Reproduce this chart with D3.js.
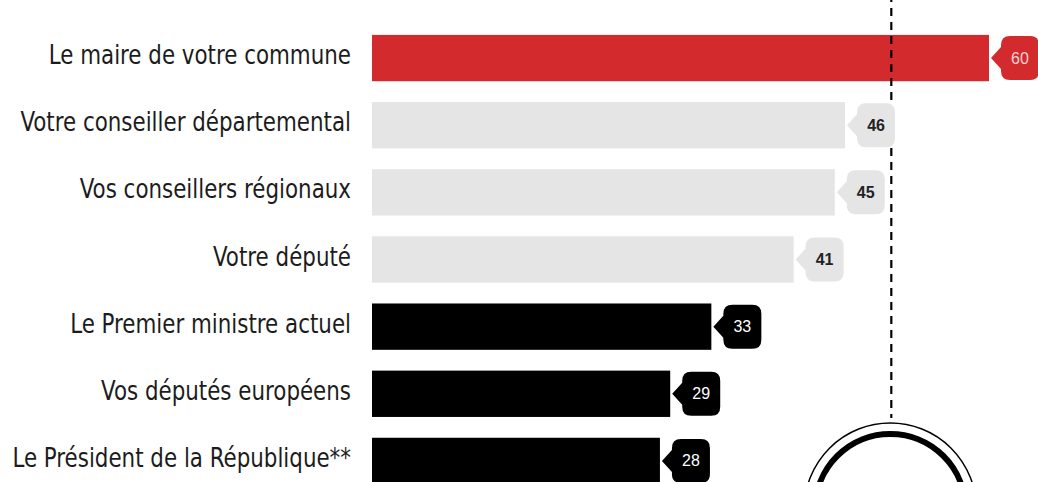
<!DOCTYPE html>
<html><head><meta charset="utf-8">
<script src="https://cdn.jsdelivr.net/npm/d3@7"></script>
<style>
html,body{margin:0;padding:0;background:#fff;}
svg{display:block;}
</style></head>
<body>
<svg id="chart" width="1038" height="482"></svg>
<script>
const categories = [
  "Le maire de votre commune",
  "Votre conseiller départemental",
  "Vos conseillers régionaux",
  "Votre député",
  "Le Premier ministre actuel",
  "Vos députés européens",
  "Le Président de la République**"
];
const values = [60, 46, 45, 41, 33, 29, 28];
const groups = ["local", "mid", "mid", "mid", "national", "national", "national"];
const referenceValue = 50.5;

const colorBar = {local: "#d32a2e", mid: "#e5e5e5", national: "#000000"};
const colorText = {local: "#f6d3d3", mid: "#222222", national: "#ffffff"};

const svg = d3.select("#chart");
const x = d3.scaleLinear().domain([0, 60]).range([372, 989]);
const y = d3.scaleBand().domain(categories).range([24.5, 494.5]).paddingInner(0.31).paddingOuter(0.155);

const data = categories.map((c, i) => ({c, v: values[i], g: groups[i]}));

// labels (horizontally condensed)
svg.append("g").selectAll("text").data(data).join("text")
  .attr("transform", d => `translate(351,${y(d.c) + y.bandwidth() / 2 + 6}) scale(0.915,1)`)
  .attr("text-anchor", "end")
  .attr("font-family", "'Liberation Sans Narrow','DejaVu Sans Condensed','Roboto',sans-serif")
  .attr("font-size", 26)
  .attr("fill", "#1c1c1c")
  .text(d => d.c);

// bars
svg.append("g").selectAll("rect").data(data).join("rect")
  .attr("x", x(0))
  .attr("y", d => y(d.c))
  .attr("width", d => x(d.v) - x(0))
  .attr("height", y.bandwidth())
  .attr("fill", d => colorBar[d.g]);

// reference dashed line
svg.append("line")
  .attr("x1", x(referenceValue)).attr("x2", x(referenceValue))
  .attr("y1", 0).attr("y2", 418)
  .attr("stroke", "#000").attr("stroke-width", 2.2)
  .attr("stroke-dasharray", "8,6").attr("stroke-dashoffset", -8);

// circle emblem
const cx = x(referenceValue) - 1, cy = 509;
svg.append("circle").attr("cx", cx).attr("cy", cy).attr("r", 86)
  .attr("fill", "#fff").attr("stroke", "#000").attr("stroke-width", 1.5);
svg.append("circle").attr("cx", cx).attr("cy", cy).attr("r", 75)
  .attr("fill", "none").attr("stroke", "#000").attr("stroke-width", 6);

// badges
const bw = 38, bh = 44, ar = 10, rr = 9;
function badgePath(px, cy) {
  const l = px + ar, t = cy - bh / 2, b = cy + bh / 2, r = l + bw;
  return `M${px},${cy} L${l},${cy - 11} L${l},${t + rr} Q${l},${t} ${l + rr},${t}
    L${r - rr},${t} Q${r},${t} ${r},${t + rr} L${r},${b - rr} Q${r},${b} ${r - rr},${b}
    L${l + rr},${b} Q${l},${b} ${l},${b - rr} L${l},${cy + 11} Z`;
}
const badges = svg.append("g").selectAll("g").data(data).join("g");
badges.append("path")
  .attr("d", d => badgePath(x(d.v) + 2, y(d.c) + y.bandwidth() / 2))
  .attr("fill", d => colorBar[d.g]);
badges.append("text")
  .attr("x", d => x(d.v) + 2 + ar + bw / 2)
  .attr("y", d => y(d.c) + y.bandwidth() / 2 + 5.5)
  .attr("text-anchor", "middle")
  .attr("font-family", "'Liberation Sans',Arial,sans-serif")
  .attr("font-size", 16)
  .attr("font-weight", d => d.g === "mid" ? "bold" : "normal")
  .attr("fill", d => colorText[d.g])
  .text(d => d.v);
</script>
</body></html>
